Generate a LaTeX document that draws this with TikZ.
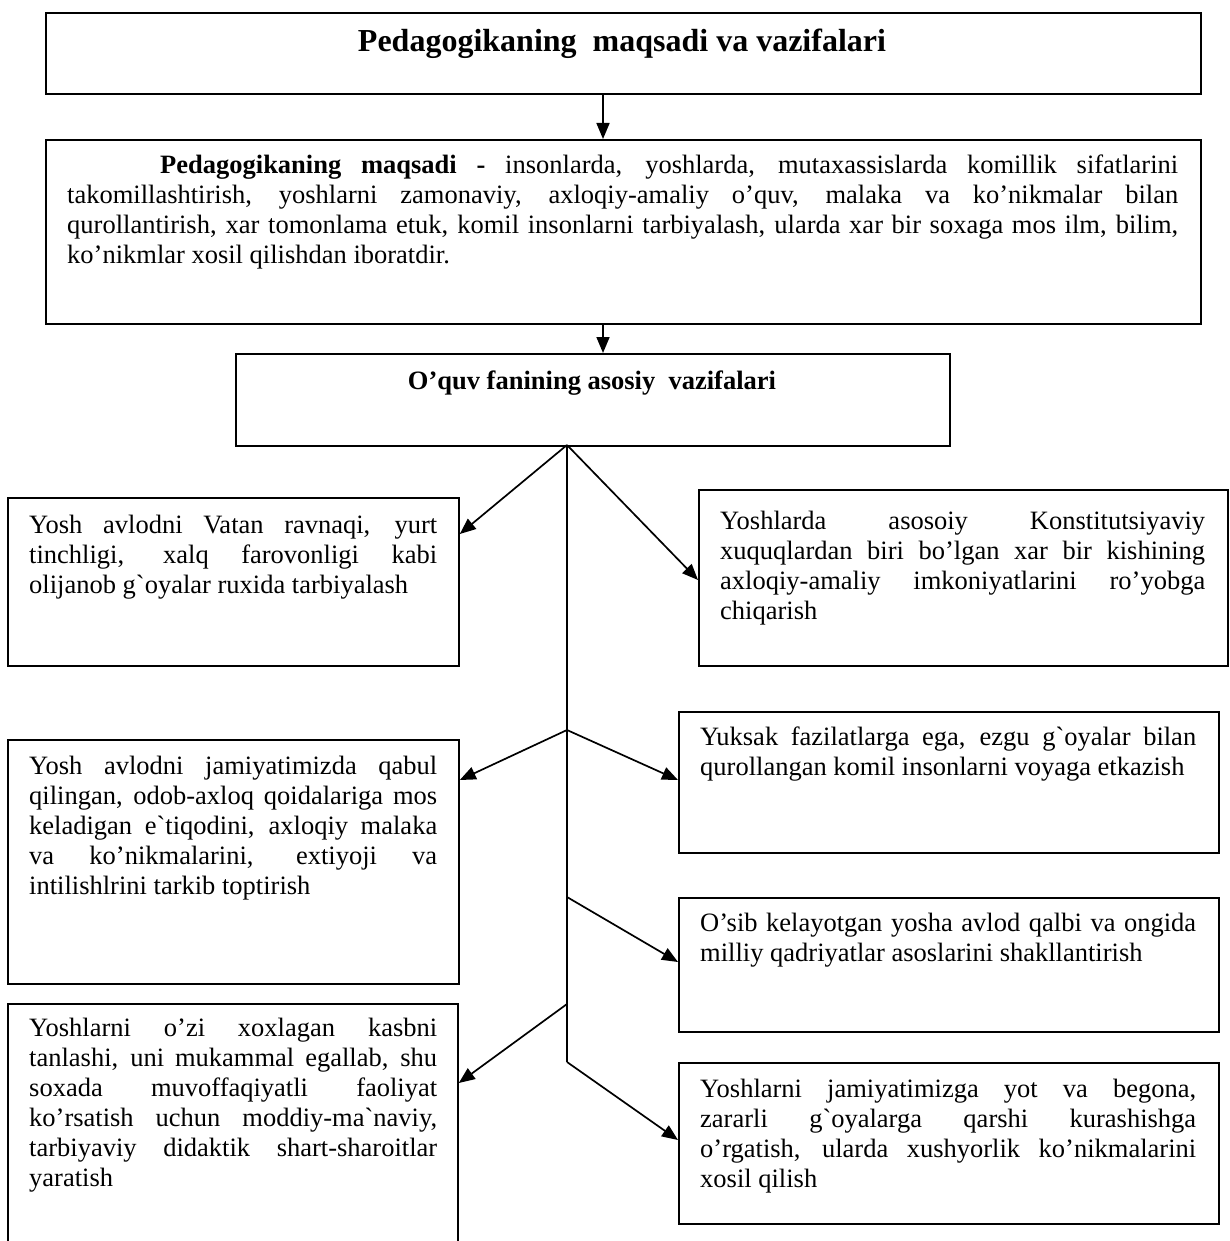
\documentclass[tikz,border=0pt]{standalone}
\usepackage{fontspec}
\setmainfont{Liberation Serif}[Ligatures=TeXOff]
\usetikzlibrary{arrows.meta,calc}
\newcommand\JLine[1]{\hbox to\linewidth{#1}}
\newcommand\LLine[1]{\hbox{#1}}
\tikzset{
  box/.style={draw, line width=1.8pt, rectangle, anchor=north west, inner sep=0pt},
  txt/.style={anchor=base west, inner sep=0pt, font=\fontsize{26.5pt}{30pt}\selectfont},
  ttl/.style={anchor=base, inner sep=0pt},
  arr/.style={line width=1.7pt, -{Triangle[length=16pt,width=13pt]}},
  trunk/.style={line width=1.1pt}
}
\begin{document}
\begin{tikzpicture}[x=1pt,y=-1pt]
\useasboundingbox (0,0) rectangle (1229,1241);
\fill[white] (0,0) rectangle (1229,1241);
\clip (0,0) rectangle (1229,1241);

% top boxes
\node[box, minimum width=1155pt, minimum height=81pt] (top) at (45,12) {};
\node[ttl, font=\fontsize{32pt}{36pt}\selectfont\bfseries] (topt) at (622,52) {Pedagogikaning\ \ maqsadi va vazifalari};

\node[box, minimum width=1155pt, minimum height=184pt] (b2) at (45,139) {};
\node[txt] (b2t) at (67,174) {\parbox[t]{1111pt}{%
\JLine{\hspace*{93pt}\textbf{Pedagogikaning maqsadi -} insonlarda, yoshlarda, mutaxassislarda komillik sifatlarini}%
\JLine{takomillashtirish, yoshlarni zamonaviy, axloqiy-amaliy o’quv, malaka va ko’nikmalar bilan}%
\JLine{qurollantirish, xar tomonlama etuk, komil insonlarni tarbiyalash, ularda xar bir soxaga mos ilm, bilim,}%
\LLine{ko’nikmlar xosil qilishdan iboratdir.}}};

\node[box, minimum width=714pt, minimum height=92pt] (b3) at (235,353) {};
\node[ttl, font=\fontsize{26.5pt}{30pt}\selectfont\bfseries] (b3t) at (592,389) {O’quv fanining asosiy\ \ vazifalari};

\coordinate (ax) at (603,0);
\draw[arr] (top.south -| ax) -- (b2.north -| ax);
\draw[arr] (b2.south -| ax) -- (b3.north -| ax);

% left boxes
\node[box, minimum width=451pt, minimum height=168pt] (lb1) at (7,497) {};
\node[txt] (lb1t) at (29,533) {\parbox[t]{408pt}{%
\JLine{Yosh avlodni Vatan ravnaqi, yurt}%
\JLine{tinchligi, xalq farovonligi kabi}%
\LLine{olijanob g`oyalar ruxida tarbiyalash}}};

\node[box, minimum width=451pt, minimum height=244pt] (lb2) at (7,739) {};
\node[txt] (lb2t) at (29,774) {\parbox[t]{408pt}{%
\JLine{Yosh avlodni jamiyatimizda qabul}%
\JLine{qilingan, odob-axloq qoidalariga mos}%
\JLine{keladigan e`tiqodini, axloqiy malaka}%
\JLine{va ko’nikmalarini, extiyoji va}%
\LLine{intilishlrini tarkib toptirish}}};

\node[box, minimum width=450pt, minimum height=260pt] (lb3) at (7,1003) {};
\node[txt] (lb3t) at (29,1036) {\parbox[t]{408pt}{%
\JLine{Yoshlarni o’zi xoxlagan kasbni}%
\JLine{tanlashi, uni mukammal egallab, shu}%
\JLine{soxada muvoffaqiyatli faoliyat}%
\JLine{ko’rsatish uchun moddiy-ma`naviy,}%
\JLine{tarbiyaviy didaktik shart-sharoitlar}%
\LLine{yaratish}}};

% right boxes
\node[box, minimum width=529pt, minimum height=176pt] (rb1) at (698,489) {};
\node[txt] (rb1t) at (720,529) {\parbox[t]{485pt}{%
\JLine{Yoshlarda asosoiy Konstitutsiyaviy}%
\JLine{xuquqlardan biri bo’lgan xar bir kishining}%
\JLine{axloqiy-amaliy imkoniyatlarini ro’yobga}%
\LLine{chiqarish}}};

\node[box, minimum width=540pt, minimum height=141pt] (rb2) at (678,711) {};
\node[txt] (rb2t) at (700,745) {\parbox[t]{496pt}{%
\JLine{Yuksak fazilatlarga ega, ezgu g`oyalar bilan}%
\LLine{qurollangan komil insonlarni voyaga etkazish}}};

\node[box, minimum width=540pt, minimum height=134pt] (rb3) at (678,897) {};
\node[txt] (rb3t) at (700,931) {\parbox[t]{496pt}{%
\JLine{O’sib kelayotgan yosha avlod qalbi va ongida}%
\LLine{milliy qadriyatlar asoslarini shakllantirish}}};

\node[box, minimum width=540pt, minimum height=161pt] (rb4) at (678,1062) {};
\node[txt] (rb4t) at (700,1097) {\parbox[t]{496pt}{%
\JLine{Yoshlarni jamiyatimizga yot va begona,}%
\JLine{zararli g`oyalarga qarshi kurashishga}%
\JLine{o’rgatish, ularda xushyorlik ko’nikmalarini}%
\LLine{xosil qilish}}};

% trunk and branches
\coordinate (t0) at (567,445);
\coordinate (t1) at (567,730);
\coordinate (t2) at (567,897);
\coordinate (t3) at (567,1004);
\coordinate (tend) at (567,1062);
\draw[trunk] (t0) -- (tend);

\draw[arr] (t0) -- ([yshift=-37pt]lb1.north east);
\draw[arr] (t0) -- ([yshift=-91pt]rb1.north west);
\draw[arr] (t1) -- ([yshift=-41pt]lb2.north east);
\draw[arr] (t1) -- ([yshift=-69pt]rb2.north west);
\draw[arr] (t2) -- ([yshift=-65pt]rb3.north west);
\draw[arr] (t3) -- ([yshift=-80pt]lb3.north east);
\draw[arr] (tend) -- ([yshift=-78pt]rb4.north west);
\end{tikzpicture}
\end{document}
